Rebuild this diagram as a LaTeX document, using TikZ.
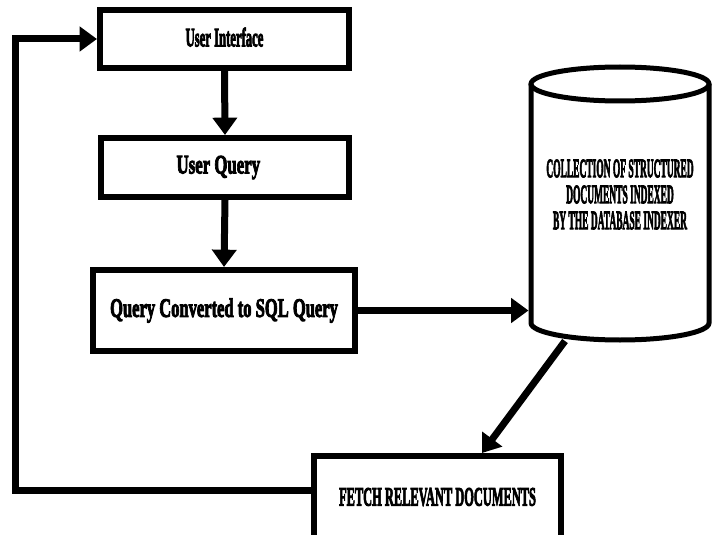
\documentclass[tikz,border=0pt]{standalone}
\usepackage{fontspec}
\setmainfont{Liberation Serif}
\newfontfamily\heavyfont{Liberation Serif Bold}[FakeBold=4]
\usetikzlibrary{arrows.meta,calc}
\newcommand{\narrowtext}[2]{\scalebox{#1}[1]{#2}}
\begin{document}
\begin{tikzpicture}[x=0.75pt,y=-0.75pt,
		box/.style={draw, line width=4.5pt, inner sep=0pt, font=\fontsize{20}{19.5}\selectfont\heavyfont},
		arr/.style={-{Triangle[width=18pt,length=13pt]}, line width=5.25pt}]
		\clip (0,0) rectangle (718,535);
		\node[box, minimum width=186.75pt, minimum height=43.5pt] (ui) at (224.5,39) {\raisebox{3pt}{\narrowtext{0.475}{User Interface}}};
		\node[box, minimum width=186pt, minimum height=44.25pt] (uq) at (225,167.5) {\hspace*{-10pt}\narrowtext{0.63}{User Query}};
		\node[box, minimum width=196.5pt, minimum height=60.75pt] (sql) at (224,310.5) {\narrowtext{0.62}{Query Converted to SQL Query}};
		\node[box, minimum width=185.25pt, minimum height=61.5pt] (fetch) at (437.5,497) {\narrowtext{0.465}{FETCH RELEVANT DOCUMENTS}};
		% database
		\draw[line width=3.75pt] (620,84) ellipse [x radius=89, y radius=17];
		\draw[line width=3.75pt] (531,84) -- (531,323) arc[start angle=180, end angle=0, x radius=89, y radius=17] -- (709,84);
		\node[font=\fontsize{20}{19.5}\selectfont\heavyfont] (db) at (620,198) {\narrowtext{0.355}{\begin{tabular}{@{}c@{}}COLLECTION OF STRUCTURED\\DOCUMENTS INDEXED\\BY THE DATABASE INDEXER\end{tabular}}};
		\coordinate (dbin) at (528.5,310);
		\coordinate (dbout) at (565,341);
		\coordinate (back) at (15,39);
		\draw[arr] (ui.south) -- (uq.north);
		\draw[arr] (uq.south) -- (sql.north);
		\draw[arr] (sql.east) -- (sql.east -| dbin);
		\draw[arr] (dbout) -- ($(fetch.north)+(44.5,0)$);
		\draw[arr] ([yshift=5.25pt]fetch.west) -| (back) -- (ui.west);
\end{tikzpicture}
\end{document}
